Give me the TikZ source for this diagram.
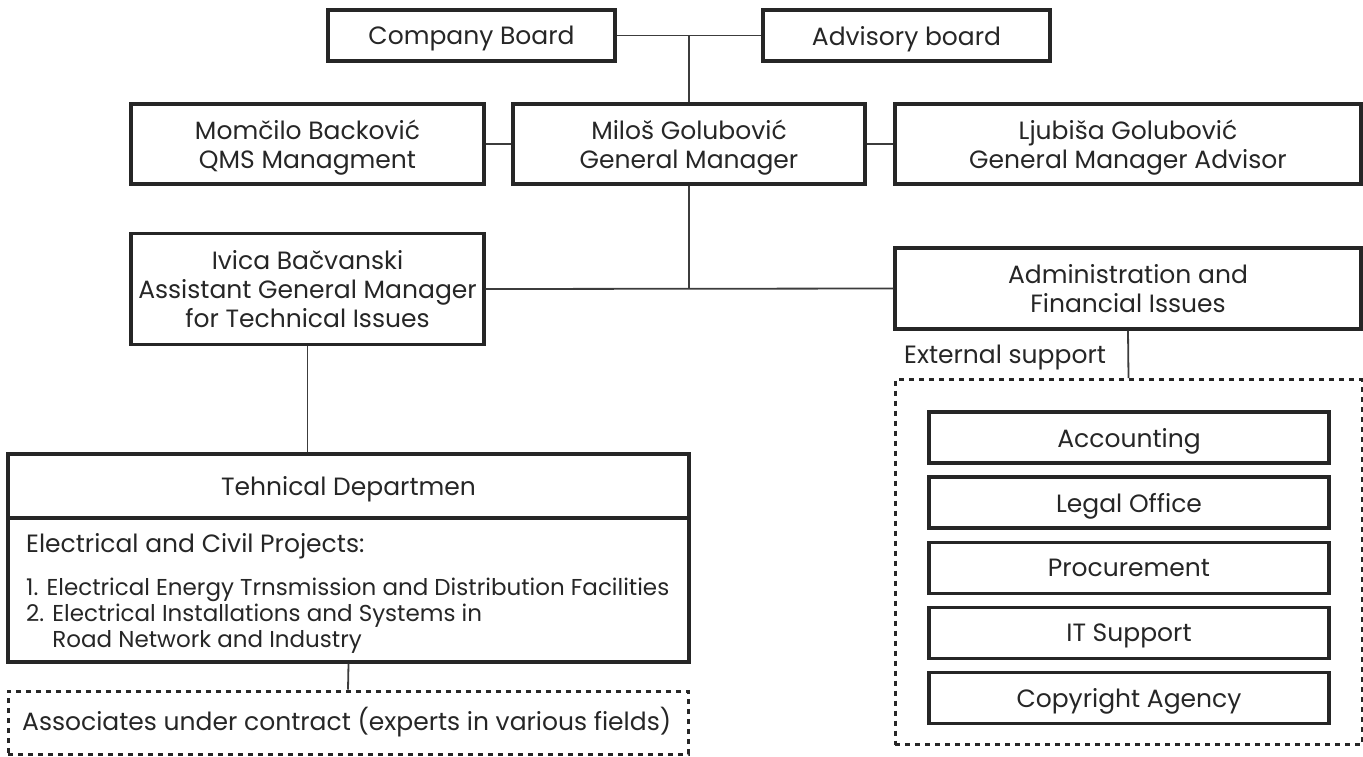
\documentclass[tikz,border=0pt]{standalone}
\usepackage{fontspec}
\setmainfont{Poppins}
\definecolor{ink}{HTML}{262626}
\definecolor{wire}{HTML}{3C3C3C}
\begin{document}
\begin{tikzpicture}[x=1pt,y=-1pt,
  every node/.style={text=ink},
  box/.style={draw=ink, line width=3.2pt, inner sep=0pt, align=center,
    text depth=0pt, font=\fontsize{25}{29}\selectfont},
  dbox/.style={draw=ink, line width=3pt, inner sep=0pt, dash pattern=on 5pt off 5pt},
  wirel/.style={draw=wire, line width=1.8pt},
  lbl/.style={inner sep=0pt, font=\fontsize{25}{29}\selectfont},
  lst/.style={inner sep=0pt, font=\fontsize{23}{26}\selectfont}]
\useasboundingbox (0,0) rectangle (1363,756);
% top row
\node[box, minimum width=287pt, minimum height=51pt] (cb) at (471.5,35.5) {Company Board};
\node[box, minimum width=287pt, minimum height=51pt] (ab) at (906.5,35.5) {Advisory board};
% second row
\node[box, minimum width=353pt, minimum height=80pt] (mb) at (307.5,144) {Momčilo Backović\\QMS Managment};
\node[box, minimum width=352pt, minimum height=80pt] (mg) at (689,144) {Miloš Golubović\\General Manager};
\node[box, minimum width=466pt, minimum height=80pt] (lg) at (1128,144) {Ljubiša Golubović\\General Manager Advisor};
% third row
\node[box, minimum width=353pt, minimum height=111pt] (iv) at (307.5,289) {Ivica Bačvanski\\Assistant General Manager\\for Technical Issues};
\node[box, minimum width=466pt, minimum height=81pt] (ad) at (1128,288.5) {Administration and\\Financial Issues};
% technical department
\node[box, minimum width=681pt, minimum height=64pt] (tdh) at (348.5,486) {Tehnical Departmen};
\node[box, minimum width=681pt, minimum height=144pt] (tdb) at (348.5,590) {};
\node[lbl, anchor=base west] (tdt) at (26,552) {Electrical and Civil Projects:};
\node[lst, anchor=base west] (l1) at (26,595) {1. Electrical Energy Trnsmission and Distribution Facilities};
\node[lst, anchor=base west] (l2) at (26,621) {2. Electrical Installations and Systems in};
\node[lst, anchor=base west] (l3) at (26,647) {\hphantom{2. }Road Network and Industry};
% associates
\node[dbox, minimum width=680pt, minimum height=63pt] (as) at (348,722.5) {};
\node[lbl, anchor=base west] (ast) at (22,730) {Associates under contract (experts in various fields)};
% external support
\node[lbl, anchor=base west] (est) at (904,363) {External support};
\node[dbox, minimum width=467pt, minimum height=365pt] (es) at (1128.5,562) {};
\node[box, minimum width=400pt, minimum height=51pt] (e1) at (1129,437.5) {Accounting};
\node[box, minimum width=400pt, minimum height=51pt] (e2) at (1129,502.5) {Legal Office};
\node[box, minimum width=400pt, minimum height=51pt] (e3) at (1129,568) {Procurement};
\node[box, minimum width=400pt, minimum height=51pt] (e4) at (1129,633) {IT Support};
\node[box, minimum width=400pt, minimum height=51pt] (e5) at (1129,698) {Copyright Agency};
% connectors
\draw[wirel] (cb.east) -- (ab.west);
\draw[wirel] (cb.east -| mg.north) -- (mg.north);
\draw[wirel] (mb.east) -- (mg.west);
\draw[wirel] (mg.east) -- (lg.west);
\draw[wirel] (mg.south) -- (mg.south |- iv.east);
\draw[wirel] (iv.east) -- (ad.west);
\draw[wirel] (iv.south) -- (iv.south |- tdh.north);
\draw[wirel] (tdb.south) -- (as.north);
\draw[wirel] (ad.south) -- (es.north);
\end{tikzpicture}
\end{document}
